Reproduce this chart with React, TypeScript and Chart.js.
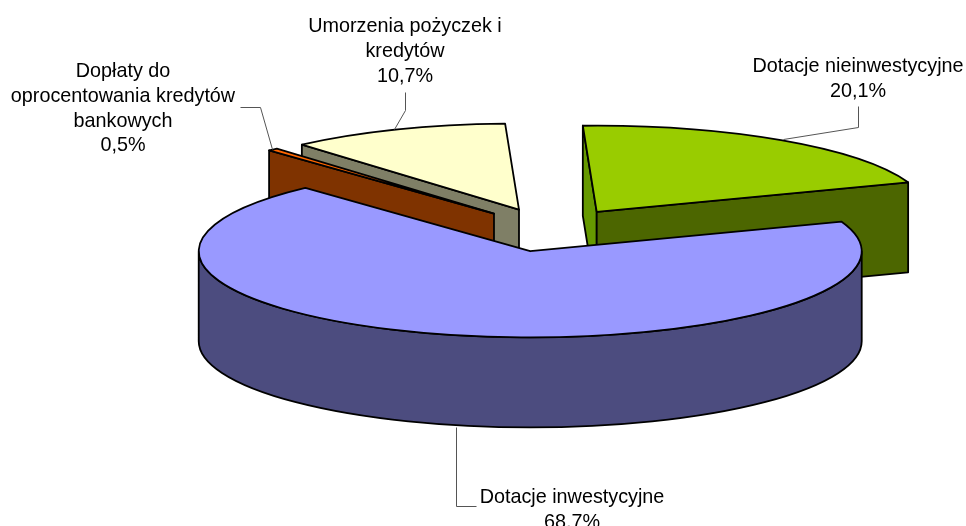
import React, { useEffect, useRef } from "react";
import { Chart, registerables } from "chart.js";

Chart.register(...registerables);

const categories = [
  "Dotacje nieinwestycyjne",
  "Dotacje inwestycyjne",
  "Dopłaty do oprocentowania kredytów bankowych",
  "Umorzenia pożyczek i kredytów",
];
const values = [20.1, 68.7, 0.5, 10.7];
const valueLabels = ["20,1%", "68,7%", "0,5%", "10,7%"];

const topColors = ["#99CC00", "#9999FF", "#FF6600", "#FFFFCC"];
const wallColors = ["#4C6600", "#4C4C7F", "#7F3300", "#7F7F66"];
const startFaceColors = ["#669900", "#4C4C7F", "#7F3300", "#7F7F66"];

const W = 966;
const H = 526;
const CENTER_Y = 230;
const RADIUS = 331.5;
const SQUASH = 0.26;
const DEPTH = 90;
const EXPLODE = 84;
const ROTATION = -2.4;
const WALL_ORDER = [3, 2, 0, 1];
const FONT = '19.8px "Liberation Sans", Arial, sans-serif';
const LINE_H = 24.6;
const EDGE = 1.8;

const labelBlocks = [
  { index: 0, lines: ["Dotacje nieinwestycyjne", valueLabels[0]], x: 858, y: 67, leader: [[858, 106], [858, 127], [783, 139]] },
  { index: 1, lines: ["Dotacje inwestycyjne", valueLabels[1]], x: 572, y: 497.5, leader: [[456, 427], [456, 506], [476, 506]] },
  { index: 2, lines: ["Dopłaty do", "oprocentowania kredytów", "bankowych", valueLabels[2]], x: 123, y: 72, leader: [[240, 107], [260, 107], [272, 149]] },
  { index: 3, lines: ["Umorzenia pożyczek i", "kredytów", valueLabels[3]], x: 405, y: 27, leader: [[405, 92], [405, 110], [394, 129]] },
];

const py = (v: number) => CENTER_Y + SQUASH * (v - CENTER_Y);

function overlap(a0: number, a1: number): [number, number] | null {
  for (const k of [-1, 0, 1]) {
    const lo = Math.max(a0, k * 2 * Math.PI);
    const hi = Math.min(a1, k * 2 * Math.PI + Math.PI);
    if (hi > lo) return [lo, hi];
  }
  return null;
}

const pie3d = {
  id: "pie3d",
  afterDatasetsUpdate(chart: any) {
    const meta = chart.getDatasetMeta(0);
    for (const arc of meta.data) {
      const mid = (arc.startAngle + arc.endAngle) / 2;
      arc.x += EXPLODE * Math.cos(mid);
      arc.y += EXPLODE * Math.sin(mid);
    }
  },
  beforeDatasetsDraw(chart: any) {
    const ctx = chart.ctx;
    const meta = chart.getDatasetMeta(0);
    ctx.save();
    ctx.lineWidth = EDGE;
    ctx.strokeStyle = "#000";
    ctx.lineJoin = "round";
    for (const i of WALL_ORDER) {
      const arc = meta.data[i];
      const R = arc.outerRadius;
      const ax = arc.x;
      const ay = py(arc.y);
      const face = (a: number, color: string) => {
        const rx = ax + R * Math.cos(a);
        const ry = py(arc.y + R * Math.sin(a));
        ctx.beginPath();
        ctx.moveTo(ax, ay);
        ctx.lineTo(rx, ry);
        ctx.lineTo(rx, ry + DEPTH);
        ctx.lineTo(ax, ay + DEPTH);
        ctx.closePath();
        ctx.fillStyle = color;
        ctx.fill();
        ctx.stroke();
      };
      if (Math.cos(arc.startAngle) < 0) face(arc.startAngle, startFaceColors[i]);
      if (Math.cos(arc.endAngle) > 0) face(arc.endAngle, wallColors[i]);
      const front = overlap(arc.startAngle, arc.endAngle);
      if (front) {
        ctx.beginPath();
        ctx.ellipse(ax, ay, R, R * SQUASH, 0, front[0], front[1]);
        ctx.ellipse(ax, ay + DEPTH, R, R * SQUASH, 0, front[1], front[0], true);
        ctx.closePath();
        ctx.fillStyle = wallColors[i];
        ctx.fill();
        ctx.stroke();
      }
    }
    ctx.restore();
  },
  beforeDatasetDraw(chart: any) {
    const ctx = chart.ctx;
    ctx.save();
    ctx.translate(0, CENTER_Y);
    ctx.scale(1, SQUASH);
    ctx.translate(0, -CENTER_Y);
  },
  afterDatasetDraw(chart: any) {
    const ctx = chart.ctx;
    ctx.restore();
    const meta = chart.getDatasetMeta(0);
    ctx.save();
    ctx.lineWidth = EDGE;
    ctx.strokeStyle = "#000";
    ctx.lineJoin = "round";
    for (const arc of meta.data) {
      const ay = py(arc.y);
      ctx.beginPath();
      ctx.moveTo(arc.x, ay);
      ctx.ellipse(arc.x, ay, arc.outerRadius, arc.outerRadius * SQUASH, 0, arc.startAngle, arc.endAngle);
      ctx.closePath();
      ctx.stroke();
    }
    ctx.restore();
  },
  afterDraw(chart: any) {
    const ctx = chart.ctx;
    ctx.save();
    ctx.strokeStyle = "#555";
    ctx.lineWidth = 1;
    ctx.fillStyle = "#000";
    ctx.font = FONT;
    ctx.textAlign = "center";
    ctx.textBaseline = "middle";
    for (const b of labelBlocks) {
      ctx.beginPath();
      b.leader.forEach(([x, y], k) => {
        if (k === 0) ctx.moveTo(x + 0.5, y + 0.5);
        else ctx.lineTo(x + 0.5, y + 0.5);
      });
      ctx.stroke();
      b.lines.forEach((t, k) => ctx.fillText(t, b.x, b.y + k * LINE_H));
    }
    ctx.restore();
  },
};

export default function App() {
  const ref = useRef<HTMLCanvasElement>(null);
  useEffect(() => {
    document.body.style.margin = "0";
    document.body.style.background = "#fff";
    const chart = new Chart(ref.current as HTMLCanvasElement, {
      type: "pie",
      data: {
        labels: categories,
        datasets: [
          {
            data: values,
            backgroundColor: topColors,
            borderWidth: 0,
            clip: false,
          } as any,
        ],
      },
      options: {
        animation: false,
        responsive: false,
        rotation: ROTATION,
        radius: RADIUS,
        layout: { padding: { left: 134, bottom: H - 2 * CENTER_Y } },
        plugins: { legend: { display: false }, tooltip: { enabled: false } },
      } as any,
      plugins: [pie3d],
    });
    return () => chart.destroy();
  }, []);
  return (
    <div style={{ position: "absolute", left: 0, top: 0, width: W, height: H, overflow: "hidden" }}>
      <canvas ref={ref} width={W} height={H} style={{ display: "block", width: W, height: H }} />
    </div>
  );
}
